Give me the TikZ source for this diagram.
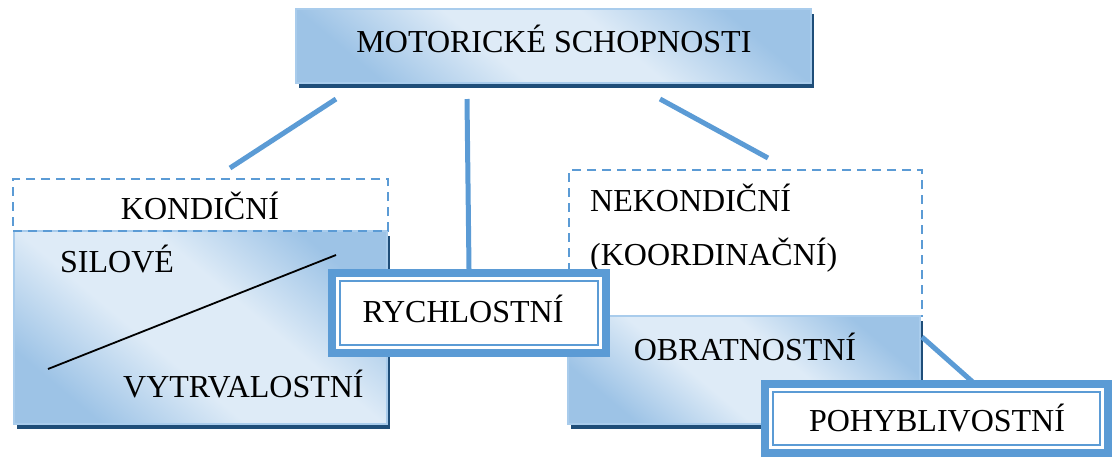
\documentclass[tikz,border=0pt]{standalone}
\usepackage{fontspec}
\setmainfont{Liberation Serif}
\usetikzlibrary{shadows}
\definecolor{conn}{HTML}{5B9BD5}
\definecolor{navy}{HTML}{1F4E79}
\definecolor{gdark}{HTML}{9DC3E6}
\definecolor{glight}{HTML}{DEEBF7}
\definecolor{gborder}{HTML}{A9CCEC}
\pgfdeclareverticalshading{diagfill}{100bp}{color(0bp)=(gdark); color(25bp)=(gdark); color(42bp)=(glight); color(58bp)=(glight); color(75bp)=(gdark); color(100bp)=(gdark)}
\tikzset{
  connector/.style={draw=conn, line width=5pt},
  gradbox/.style={rectangle, inner sep=0pt, outer sep=0pt, draw=gborder, line width=2pt,
    shading=diagfill, shading angle=-40,
    general shadow={fill=navy, shadow xshift=3pt, shadow yshift=-5pt}},
  dashbox/.style={rectangle, inner sep=0pt, outer sep=0pt, draw=conn, line width=2.2pt, dash pattern=on 9pt off 6pt},
  framebox/.style={rectangle, inner sep=0pt, outer sep=0pt, draw=conn, fill=white, line width=8pt},
  innerframe/.style={draw=conn, line width=2.5pt},
  txt/.style={font=\fontsize{32}{38}\selectfont, inner sep=0pt, text=black}
}
\begin{document}
\begin{tikzpicture}[x=1pt,y=-1pt]
\useasboundingbox (0,0) rectangle (1114,459);
% free ends of connectors
\coordinate (t1) at (336,99);
\coordinate (k1) at (230,168);
\coordinate (t2) at (467,99);
\coordinate (t3) at (660,99);
\coordinate (n1) at (768,158);
\coordinate (o1) at (922,337);
\coordinate (p1) at (975,384);
\coordinate (d1) at (48,369);
\coordinate (d2) at (336,255);

% top box
\node[gradbox, minimum width=515pt, minimum height=74pt] (top) at (553.5,46) {};
\node[txt, anchor=base] (toptxt) at (554,52) {MOTORICKÉ SCHOPNOSTI};

% connectors from top
\draw[connector] (t1) -- (k1);
\draw[connector] (t2) -- (469,269);
\draw[connector] (t3) -- (n1);

% left group
\node[gradbox, minimum width=373pt, minimum height=193pt] (left) at (200.5,327.5) {};
\node[dashbox, minimum width=375pt, minimum height=52pt] (kond) at (200.5,205) {};
\node[txt, anchor=base] (kondtxt) at (200,219) {KONDIČNÍ};
\node[txt, anchor=base west] (sil) at (60,272) {SILOVÉ};
\node[txt, anchor=base west] (vyt) at (123,397) {VYTRVALOSTNÍ};
\draw[black, line width=1.8pt] (d1) -- (d2);

% right group
\node[dashbox, minimum width=353pt, minimum height=146pt] (nekond) at (745.5,243) {};
\node[txt, anchor=base west] (nektxt) at (590,211) {NEKONDIČNÍ};
\node[txt, anchor=base west] (koortxt) at (590,265) {(KOORDINAČNÍ)};
\node[gradbox, minimum width=352pt, minimum height=108pt] (obr) at (744,370) {};
\node[txt, anchor=base] (obrtxt) at (745,360) {OBRATNOSTNÍ};

% RYCHLOSTNI
\node[framebox, minimum width=274pt, minimum height=80pt] (ry) at (469,313) {};
\draw[innerframe] ([shift={(8pt,-8pt)}]ry.north west) rectangle ([shift={(-8pt,8pt)}]ry.south east);
\node[txt, anchor=base] (rytxt) at (463,322) {RYCHLOSTNÍ};

% POHYBLIVOSTNI
\draw[connector] (o1) -- (p1);
\node[framebox, minimum width=343pt, minimum height=69pt] (poh) at (936.5,418.5) {};
\draw[innerframe] ([shift={(8pt,-8pt)}]poh.north west) rectangle ([shift={(-8pt,8pt)}]poh.south east);
\node[txt, anchor=base] (pohtxt) at (937,431) {POHYBLIVOSTNÍ};
\end{tikzpicture}
\end{document}
